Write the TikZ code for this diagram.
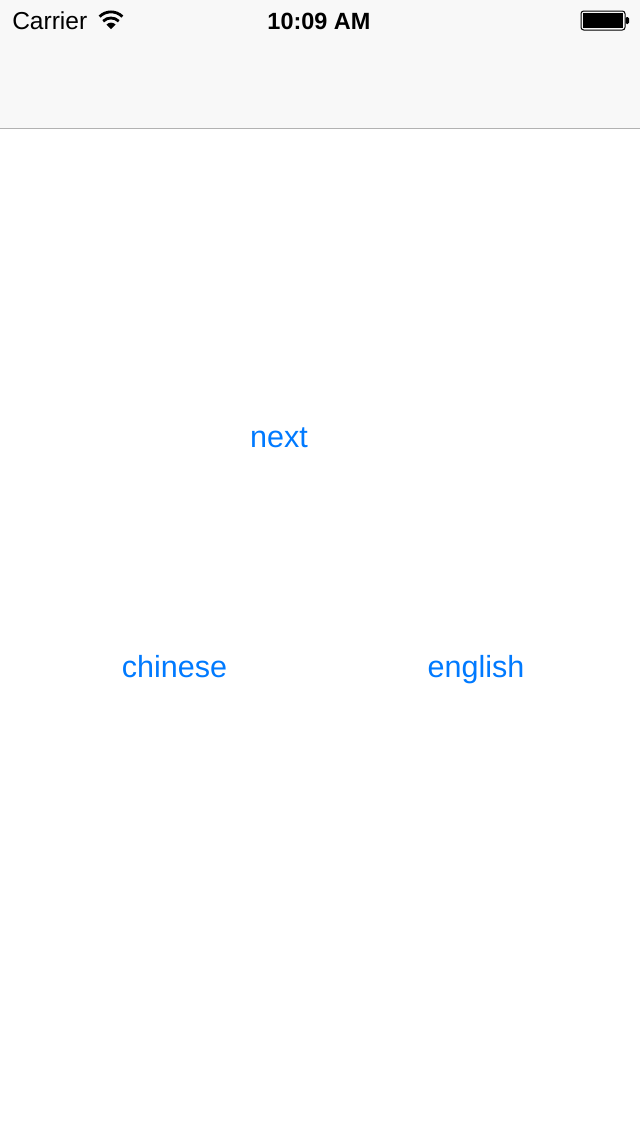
\documentclass[tikz,border=0pt]{standalone}
\usepackage{fontspec}
\setmainfont{Liberation Sans}
\usetikzlibrary{positioning}
\definecolor{btnblue}{HTML}{007AFF}
\definecolor{barbg}{HTML}{F8F8F8}
\definecolor{barline}{HTML}{B2B2B2}
\tikzset{
  btn/.style={text=btnblue, inner sep=0pt, font=\fontsize{22.9pt}{27pt}\selectfont},
  status/.style={text=black, inner sep=0pt, font=\fontsize{18.4pt}{22pt}\selectfont},
}

\begin{document}
\begin{tikzpicture}[x=0.75pt, y=-0.75pt]
  \useasboundingbox (0,0) rectangle (640,1136);
  \fill[white] (0,0) rectangle (640,1136);

  % navigation bar
  \fill[barbg] (0,0) rectangle (640,128);
  \draw[barline, line width=0.75pt] (0,128) -- (640,128);

  % status bar
  \node[status, anchor=base west] (carrier) at (12,29) {Carrier};
  \node[status, anchor=base, font=\bfseries\fontsize{17.6pt}{22pt}\selectfont] (clock) at (319,29) {10:09 AM};

  % wifi
  \fill[black] (111,29) -- (106.5,24.5) arc (225:315:6.4) -- cycle;
  \draw[black, line width=2.1pt] (103.2,21.2) arc (225:315:11);
  \draw[black, line width=2.1pt] (99.6,16.6) arc (225:315:16.1);

  % battery
  \draw[black, line width=0.75pt, rounded corners=2pt] (581,11) rectangle (625,30);
  \fill[black] (583,13) rectangle (623,28);
  \fill[black, rounded corners=1pt] (625.5,17) rectangle (629,24);

  % buttons
  \node[btn, anchor=base] (next) at (279,447) {next};
  \node[btn, anchor=base] (chinese) at (174.5,677) {chinese};
  \node[btn, anchor=base] (english) at (476,677) {english};
\end{tikzpicture}
\end{document}
